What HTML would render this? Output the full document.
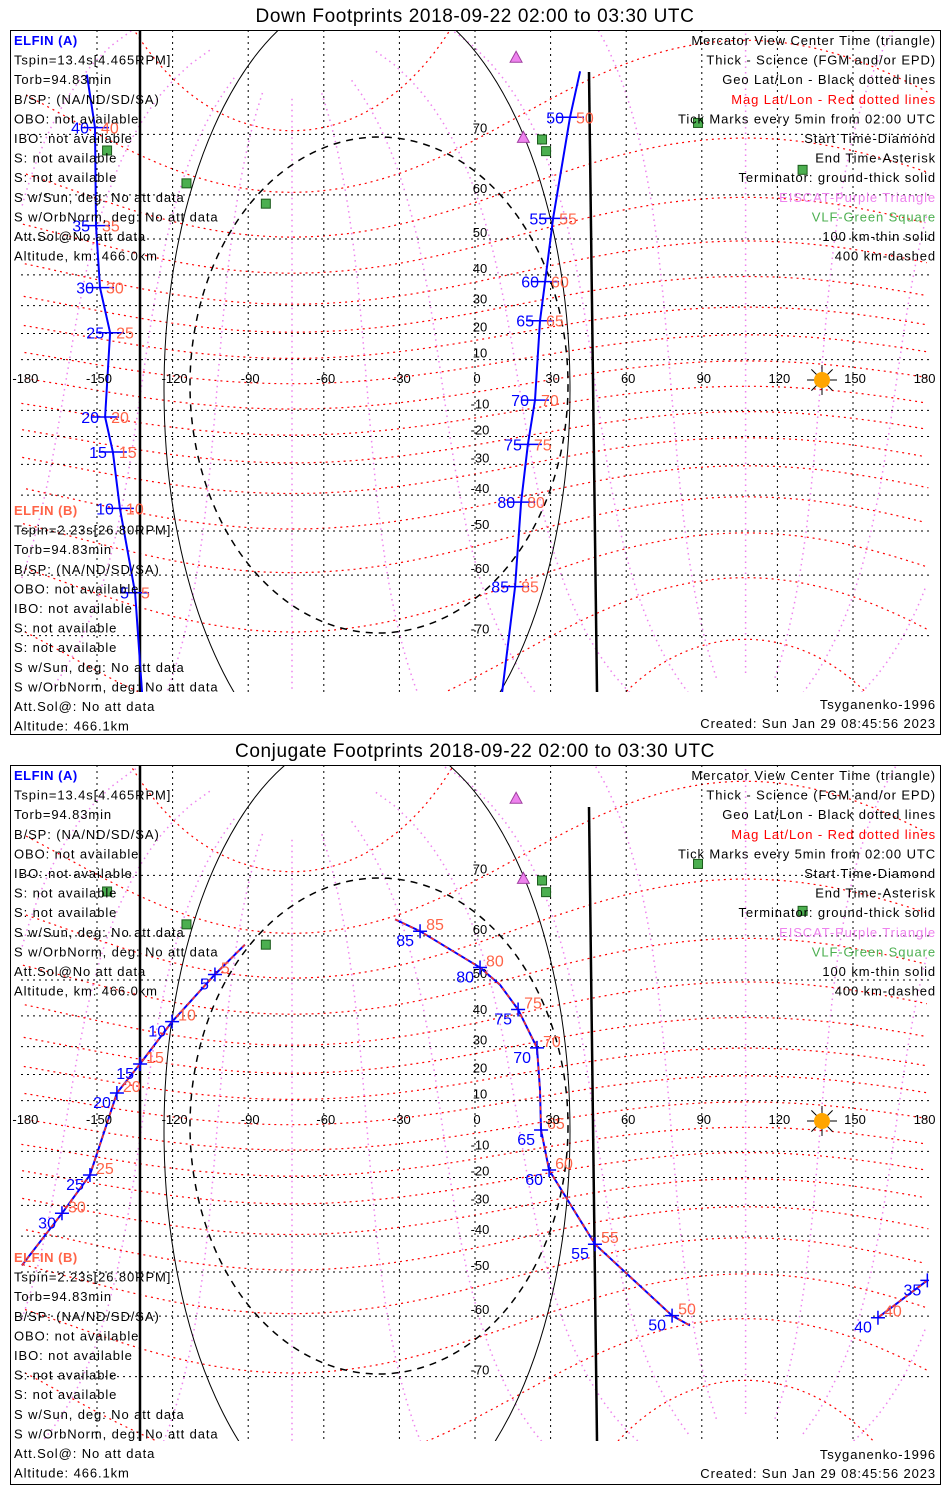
<!DOCTYPE html>
<html><head><meta charset="utf-8"><style>
html,body{margin:0;background:#fff;width:950px;height:1500px;overflow:hidden}
svg{display:block}
text{font-family:"Liberation Sans",sans-serif}
</style></head><body>
<svg id="svg" width="950" height="1500" viewBox="0 0 950 1500" font-size="13"></svg>
<script>
// ---- data ----
const topLeftLon=[-154,-150.8,-150.4,-148.8,-144.8,-146.8,-143.7,-140.9,-134.9,-132.1];
const topLeftLat=[76.7,70.9,53.3,36.0,20.3,-12.6,-25.7,-43.9,-63.3,-76.5];
const topLeftTicks=[null,40,35,30,25,20,15,10,5,null];
const topRightLon=[41.7,37.7,31.0,27.8,25.8,23.8,21.0,18.3,15.9,10.7];
const topRightLat=[77.0,72.2,55.0,37.9,24.7,-6.0,-22.9,-42.1,-62.2,-76.5];
const topRightTicks=[null,50,55,60,65,70,75,80,85,null];
const botLeftLon=[-91.3,-103.2,-120.2,-132.9,-142.1,-145.6,-152.8,-163.9,-179.8];
const botLeftLat=[58.2,51.4,38.2,23.9,13.0,2.4,-19.1,-32.7,-48.3];
const botLeftTicks=[null,5,10,15,20,null,25,30,null];
const botRightLon=[-31.7,-21.8,2.0,9.9,17.1,24.6,25.8,26.2,29.4,47.6,78.2,85.3];
const botRightLat=[63.1,60.9,53.1,48.8,41.9,29.6,14.2,-1.6,-17.2,-42.4,-59.9,-61.8];
const botRightTicks=[null,85,80,null,75,70,null,65,60,55,50,null];
const botFarLon=[179.5,159.9];
const botFarLat=[-52.1,-60.3];
const botFarTicks=[35,40];
const lonTicks=[-180,-150,-120,-90,-60,-30,0,30,60,90,120,150,180];
const latTicks=[70,60,50,40,30,20,10,-10,-20,-30,-40,-50,-60,-70];
const vlfLon=[-146,-114.5,-83,26.6,28.2,88.5,130];
const vlfLat=[67.7,62.2,58.2,69.3,67.6,71.5,64.6];
const eiscatLon=[16.3,19.2];
const eiscatLat=[78.2,69.6];
const leftA=["ELFIN (A)","Tspin=13.4s[4.465RPM]","Torb=94.83min","B/SP: (NA/ND/SD/SA)","OBO: not available","IBO: not available","S: not available","S: not available","S w/Sun, deg: No att data","S w/OrbNorm, deg: No att data","Att.Sol@No att data","Altitude, km: 466.0km"];
const leftB=["ELFIN (B)","Tspin=2.23s[26.80RPM]","Torb=94.83min","B/SP: (NA/ND/SD/SA)","OBO: not available","IBO: not available","S: not available","S: not available","S w/Sun, deg: No att data","S w/OrbNorm, deg: No att data","Att.Sol@: No att data","Altitude: 466.1km"];
const legend=["Mercator View Center Time (triangle)","Thick - Science (FGM and/or EPD)","Geo Lat/Lon - Black dotted lines","Mag Lat/Lon - Red dotted lines","Tick Marks every 5min from 02:00 UTC","Start Time-Diamond","End Time-Asterisk","Terminator: ground-thick solid","EISCAT-Purple Triangle","VLF-Green Square","100 km-thin solid","400 km-dashed"];
const legendColors=["#000","#000","#000","#f00","#000","#000","#000","#000","#ee82ee","#4caf50","#000","#000"];

const NS="http://www.w3.org/2000/svg";
const svg=document.getElementById('svg');
function mk(tag,attrs,parent){const e=document.createElementNS(NS,tag);for(const k in attrs)e.setAttribute(k,attrs[k]);(parent||svg).appendChild(e);return e;}
function txt(s,x,y,attrs,parent){const e=mk('text',Object.assign({x:x,y:y},attrs||{}),parent);e.textContent=s;return e;}
const R=144.4;
function xs(lon){return 475+lon*2.52;}
function ys(lat,P){const r=Math.max(-85,Math.min(85,lat))*Math.PI/180;return P.eq-R*Math.log(Math.tan(Math.PI/4+r/2));}

const pLat=80.5*Math.PI/180,pLon=-72.6*Math.PI/180;
function magToGeo(mlat,mlon){
 const a=Math.PI/2-pLat;const la=mlat*Math.PI/180,lo=mlon*Math.PI/180;
 let x=Math.cos(la)*Math.cos(lo),y=Math.cos(la)*Math.sin(lo),z=Math.sin(la);
 let x1=x*Math.cos(a)+z*Math.sin(a),z1=-x*Math.sin(a)+z*Math.cos(a);
 let x2=x1*Math.cos(pLon)-y*Math.sin(pLon),y2=x1*Math.sin(pLon)+y*Math.cos(pLon);
 return [Math.atan2(y2,x2)*180/Math.PI,Math.asin(Math.max(-1,Math.min(1,z1)))*180/Math.PI];
}
function polyPath(pts){
 let d='',prev=null;
 for(const p of pts){const j=prev&&Math.abs(p[0]-prev[0])>90;d+=(prev&&!j?'L':'M')+p[2].toFixed(1)+' '+p[3].toFixed(1);prev=p;}
 return d;
}

function panel(P){
 const g=mk('g',{},svg);
 
 
 const t=txt(P.title,475,P.top-8,{'text-anchor':'middle','font-size':'19','letter-spacing':'0.6'},g);
 
 
 const box=mk('rect',{x:10.5,y:P.top+.5,width:930,height:P.h,fill:'none',stroke:'#000'},g);
 
 
 const cid='clip'+P.top;
 const cp=mk('clipPath',{id:cid},g);mk('rect',{x:21,y:P.top+1,width:908,height:P.mapB-P.top-1},cp);
 const m=mk('g',{'clip-path':'url(#'+cid+')'},g);
 
 
 for(let ml=0;ml<360;ml+=30){const pts=[];for(let la=-84;la<=84;la+=2){const q=magToGeo(la,ml);pts.push([q[0],q[1],xs(q[0]),ys(q[1],P)]);}
  const e=mk('path',{d:polyPath(pts),fill:'none',stroke:'#ee82ee','stroke-width':1.5,'stroke-dasharray':'1.5 4'},m);
  }
 for(let la=-80;la<=80;la+=10){const pts=[];for(let ml=0;ml<=360;ml+=2){const q=magToGeo(la,ml);pts.push([q[0],q[1],xs(q[0]),ys(q[1],P)]);}
  pts.sort((a,b)=>a[0]-b[0]);
  const e=mk('path',{d:polyPath(pts),fill:'none',stroke:'#f00','stroke-width':1.2,'stroke-dasharray':'2 4'},m);
  }
 for(const lo of lonTicks){if(Math.abs(lo)==180)continue;const e=mk('line',{x1:xs(lo),x2:xs(lo),y1:P.top,y2:P.mapB,stroke:'#000','stroke-dasharray':'2 4'},m);}
 for(const la of latTicks){const y=ys(la,P);const e=mk('line',{x1:21,x2:929,y1:y,y2:y,stroke:'#000','stroke-dasharray':'2 4'},m);}
 const cy=P.eq+5;
 const e1=mk('ellipse',{cx:367,cy:cy,rx:203,ry:400,fill:'none',stroke:'#000','stroke-width':1},m);
 const e2=mk('ellipse',{cx:379,cy:P.eq,rx:189,ry:248,fill:'none',stroke:'#000','stroke-width':1.5,'stroke-dasharray':'7 6'},m);
 const t1=mk('line',{x1:140,x2:140,y1:P.top,y2:P.mapB,stroke:'#000','stroke-width':2.5},m);
 const t2=mk('line',{x1:589,x2:597,y1:P.top+42,y2:P.mapB,stroke:'#000','stroke-width':2.5},m);
 for(const la of latTicks){const e=txt(String(la),480,ys(la,P)-2,{'text-anchor':'middle','font-size':'13'},m);}
 for(let i=0;i<vlfLon.length;i++){const e=mk('rect',{x:xs(vlfLon[i])-4.5,y:ys(vlfLat[i],P)-4.5,width:9,height:9,fill:'#4caf50',stroke:'#1a5a1a'},m);}
 for(let i=0;i<eiscatLon.length;i++){const x=xs(eiscatLon[i]),y=ys(eiscatLat[i],P);const e=mk('path',{d:`M${x} ${y-6}L${x+6} ${y+5}L${x-6} ${y+5}Z`,fill:'#ee82ee',stroke:'#a040a0'},m);}
 const sx=822,sy=P.eq-5;
 for(let k=0;k<8;k++){const a=k*Math.PI/4;mk('line',{x1:sx+Math.cos(a)*6,y1:sy+Math.sin(a)*6,x2:sx+Math.cos(a)*15,y2:sy+Math.sin(a)*15,stroke:'#000'},m);}
 const s=mk('circle',{cx:sx,cy:sy,r:8,fill:'#ffa500'},m);
 for(const T of P.tracks){
  const pts=T.lon.map((lo,i)=>[xs(lo),ys(T.lat[i],P)]);
  const d=pts.map((p,i)=>(i?'L':'M')+p[0].toFixed(1)+' '+p[1].toFixed(1)).join('');
  const tr=mk('path',{d:d,fill:'none',stroke:'#0000ff','stroke-width':2},m);
  
  if(P.conj){const r=mk('path',{d:d,fill:'none',stroke:'#ff3020','stroke-width':1.5,'stroke-dasharray':'4 4'},m);}
  T.ticks.forEach((v,i)=>{if(v==null)return;const [x,y]=pts[i];
   if(P.conj){mk('path',{d:`M${x-7} ${y}H${x+7}M${x} ${y-7}V${y+7}`,stroke:'#0000ff','stroke-width':1.5},m);
    const b=txt(String(v),x-6,y+15,{'text-anchor':'end',fill:'#0000ff','font-size':'16'},m);
    const r=txt(String(v),x+6,y-1,{fill:'#ff6347','font-size':'16'},m);}
   else{mk('line',{x1:x-14,x2:x+14,y1:y,y2:y,stroke:'#0000ff','stroke-width':1.5},m);
    const b=txt(String(v),x-6,y+6,{'text-anchor':'end',fill:'#0000ff','font-size':'16'},m);
    const r=txt(String(v),x+6,y+6,{fill:'#ff6347','font-size':'16'},m);}
  });
 }
 for(const lo of lonTicks){const e=txt(String(lo),xs(lo)+(lo==-180?4:lo==180?-4:2),P.eq-2,{'text-anchor':'middle','font-size':'13'},g);}
 const ls={'letter-spacing':'0.9'};
 leftA.forEach((s,i)=>{const e=txt(s,14,P.top+15+i*19.6,Object.assign({},ls,i==0?{fill:'#0000ff','font-weight':'bold','letter-spacing':'0.5'}:{}),g);});
 leftB.forEach((s,i)=>{const e=txt(s,14,P.top+P.bOff+i*19.6,Object.assign({},ls,i==0?{fill:'#ff6347','font-weight':'bold','letter-spacing':'0.5'}:{}),g);});
 legend.forEach((s,i)=>{const e=txt(s,936,P.top+15+i*19.6,Object.assign({'text-anchor':'end',fill:legendColors[i]},ls),g);});
 const a=txt('Tsyganenko-1996',936,P.top+P.h-25,Object.assign({'text-anchor':'end'},ls),g);
 const c=txt('Created: Sun Jan 29 08:45:56 2023',936,P.top+P.h-6,Object.assign({'text-anchor':'end'},ls),g);
}
panel({name:'down-footprints-panel',title:'Down Footprints 2018-09-22 02:00 to 03:30 UTC',top:30,h:704,eq:385,mapB:692,bOff:485,conj:false,
 tracks:[{lon:topLeftLon,lat:topLeftLat,ticks:topLeftTicks},{lon:topRightLon,lat:topRightLat,ticks:topRightTicks}]});
panel({name:'conjugate-footprints-panel',title:'Conjugate Footprints 2018-09-22 02:00 to 03:30 UTC',top:765,h:719,eq:1126,mapB:1441,bOff:497,conj:true,
 tracks:[{lon:botLeftLon,lat:botLeftLat,ticks:botLeftTicks},{lon:botRightLon,lat:botRightLat,ticks:botRightTicks},{lon:botFarLon,lat:botFarLat,ticks:botFarTicks}]});
</script>
</body></html>
